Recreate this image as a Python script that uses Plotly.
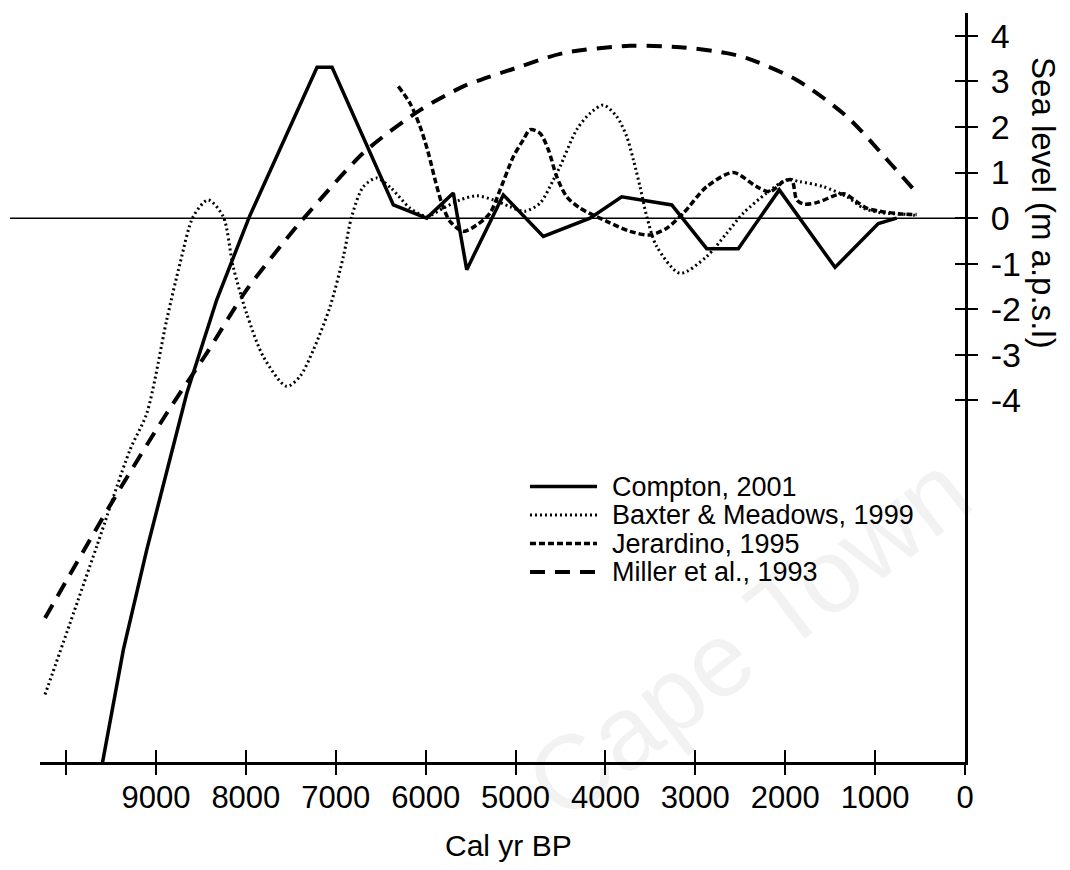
import plotly.graph_objects as go

# ---------------- data ----------------
compton_x = [9600, 9363, 9102, 8824, 8657, 8324, 7959, 7208, 7041, 6359, 5988, 5692, 5543,
             5136, 4691, 4171, 3819, 3262, 2873, 2522, 2066, 1446, 964, 760]
compton_y = [-12.0, -9.47, -7.27, -5.08, -3.84, -1.79, 0.04, 3.31, 3.31, 0.29, 0.0, 0.55, -1.13,
             0.51, -0.40, 0.0, 0.47, 0.29, -0.67, -0.67, 0.62, -1.08, -0.12, 0.0]

baxter_x = [10234, 9955, 9659, 9288, 9102, 8880, 8732, 8584, 8420, 8253, 8142, 7993, 7805,
            7546, 7397, 7249, 7063, 6915, 6822, 6693, 6544, 6380, 6174, 5988, 5803, 5617, 5432,
            5247, 5061, 4900, 4727, 4579, 4505, 4320, 4171, 4023, 3875, 3763, 3689, 3615, 3541,
            3430, 3170, 2873, 2651, 2466, 2206, 1983, 1835, 1576, 1316, 1131, 945, 575, 540]
baxter_y = [-10.45, -8.88, -7.2, -5.08, -4.28, -2.23, -0.99, 0.04, 0.40, 0.04, -1.06, -2.08,
            -3.04, -3.69, -3.47, -2.89, -1.94, -0.84, 0.04, 0.69, 0.88, 0.65, 0.22, 0.04, 0.22,
            0.40, 0.49, 0.40, 0.25, 0.15, 0.33, 0.84, 1.13, 1.94, 2.30, 2.48, 2.23, 1.79, 1.28,
            0.69, 0.04, -0.62, -1.21, -0.84, -0.33, 0.11, 0.55, 0.84, 0.80, 0.69, 0.47, 0.22,
            0.12, 0.07, 0.05]

jerardino_x = [6304, 6174, 6062, 5970, 5895, 5821, 5729, 5581, 5432, 5284, 5172, 5024, 4913, 4839,
               4727, 4635, 4542, 4431, 4283, 3986, 3726, 3504, 3318, 3133, 2873, 2577, 2318, 2169,
               2021, 1928, 1872, 1798, 1650, 1427, 1335, 1205, 1094, 945, 700, 538]
jerardino_y = [2.89, 2.52, 2.01, 1.43, 0.84, 0.33, -0.07, -0.29, -0.15, 0.11, 0.62, 1.35, 1.72, 1.94,
               1.86, 1.50, 0.91, 0.47, 0.22, -0.07, -0.29, -0.37, -0.22, 0.11, 0.69, 1.00, 0.69, 0.58,
               0.80, 0.84, 0.40, 0.31, 0.34, 0.51, 0.53, 0.36, 0.22, 0.15, 0.09, 0.08]

miller_x = [10234, 9474, 8880, 8435, 7990, 7434, 7323, 6693, 6062, 5581, 5395,
            5061, 4468, 3726, 3170, 2651, 2428, 1872, 1316, 834, 575]
miller_y = [-8.77, -6.18, -4.28, -2.96, -1.57, -0.18, 0.07, 1.43, 2.37, 2.89, 3.03,
            3.25, 3.62, 3.78, 3.75, 3.62, 3.51, 3.03, 2.23, 1.21, 0.64]

x_tickvals = [10000, 9000, 8000, 7000, 6000, 5000, 4000, 3000, 2000, 1000, 0]
x_ticktext = ["", "9000", "8000", "7000", "6000", "5000", "4000", "3000", "2000", "1000", "0"]
y_tickvals = [4, 3, 2, 1, 0, -1, -2, -3, -4]
y_ticktext = ["4", "3", "2", "1", "0", "-1", "-2", "-3", "-4"]

series_names = ["Compton, 2001", "Baxter & Meadows, 1999", "Jerardino, 1995", "Miller et al., 1993"]

X_RANGE = [10290, 0]
Y_RANGE = [-11.93, 4.5]

SANS = "Liberation Sans, Arial, sans-serif"

styles = [
    dict(color="black", width=3.5, dash="solid"),
    dict(color="black", width=3, dash="2px,3px"),
    dict(color="black", width=3.5, dash="6px,3px"),
    dict(color="black", width=4, dash="15px,10px"),
]

fig = go.Figure()
data = [(compton_x, compton_y, "linear"), (baxter_x, baxter_y, "spline"),
        (jerardino_x, jerardino_y, "spline"), (miller_x, miller_y, "spline")]
for (xs, ys, shape), st, name in zip(data, styles, series_names):
    fig.add_trace(go.Scatter(x=xs, y=ys, mode="lines", name=name,
                             line=dict(color=st["color"], width=st["width"], dash=st["dash"],
                                       shape=shape, smoothing=0.8 if shape == "spline" else None),
                             showlegend=False))

# empty trace to activate the overlay axes (used for crossing tick marks)
fig.add_trace(go.Scatter(x=[None], y=[None], xaxis="x2", yaxis="y2", showlegend=False,
                         hoverinfo="skip"))

axis_common = dict(showgrid=False, zeroline=False)
fig.update_layout(
    width=1070, height=870, autosize=False,
    margin=dict(l=40, r=105, t=13, b=108),
    paper_bgcolor="white", plot_bgcolor="white",
    showlegend=False,
    xaxis=dict(range=X_RANGE, tickmode="array", tickvals=x_tickvals, ticktext=x_ticktext,
               ticks="inside", ticklen=12, tickwidth=1.5, tickcolor="black",
               showline=True, linewidth=3, linecolor="black",
               tickfont=dict(family=SANS, size=31, color="black"),
               ticklabelstandoff=6, **axis_common),
    yaxis=dict(range=Y_RANGE, side="right", anchor="x", tickmode="array",
               tickvals=y_tickvals, ticktext=y_ticktext,
               ticks="outside", ticklen=10, tickwidth=1.5, tickcolor="black",
               showline=True, linewidth=3, linecolor="black",
               tickfont=dict(family=SANS, size=34, color="black"),
               ticklabelstandoff=6, **axis_common),
    xaxis2=dict(range=X_RANGE, overlaying="x", anchor="y", side="bottom", tickmode="array",
                tickvals=x_tickvals, ticks="outside", ticklen=12, tickwidth=1.5,
                tickcolor="black", showticklabels=False, showline=False, **axis_common),
    yaxis2=dict(range=Y_RANGE, overlaying="y", anchor="x", side="right", tickmode="array",
                tickvals=y_tickvals, ticks="inside", ticklen=10, tickwidth=1.5,
                tickcolor="black", showticklabels=False, showline=False, **axis_common),
)

# horizontal zero line extending slightly left of the axis
fig.add_shape(type="line", xref="paper", yref="y", x0=-0.0324, x1=1, y0=0, y1=0,
              line=dict(color="black", width=1.5), layer="below")

# axis titles
fig.add_annotation(text="Cal yr BP", xref="paper", yref="paper", x=0.507, y=-0.112,
                   xanchor="center", yanchor="middle", showarrow=False,
                   font=dict(family=SANS, size=30, color="black"))
fig.add_annotation(text="Sea level (m a.p.s.l)", xref="paper", yref="paper", x=1.0854, y=0.7463,
                   xanchor="center", yanchor="middle", showarrow=False, textangle=90,
                   font=dict(family=SANS, size=33, color="black"))

# manual legend
leg_rows = [0.3678, 0.3297, 0.2917, 0.2537]
for name, st, yy in zip(series_names, styles, leg_rows):
    fig.add_shape(type="line", xref="paper", yref="paper", x0=0.5297, x1=0.6022, y0=yy, y1=yy,
                  line=dict(color="black", width=st["width"], dash=st["dash"]))
    fig.add_annotation(text=name, xref="paper", yref="paper", x=0.6162, y=yy,
                       xanchor="left", yanchor="middle", showarrow=False,
                       font=dict(family=SANS, size=27, color="black"))

# faint watermark
fig.add_annotation(text="Cape Town", xref="paper", yref="paper", x=0.765, y=0.168,
                   xanchor="center", yanchor="middle", showarrow=False, textangle=-37.5,
                   font=dict(family=SANS, size=105, color="rgba(0,0,0,0.05)"))

fig.write_html("out.html")
